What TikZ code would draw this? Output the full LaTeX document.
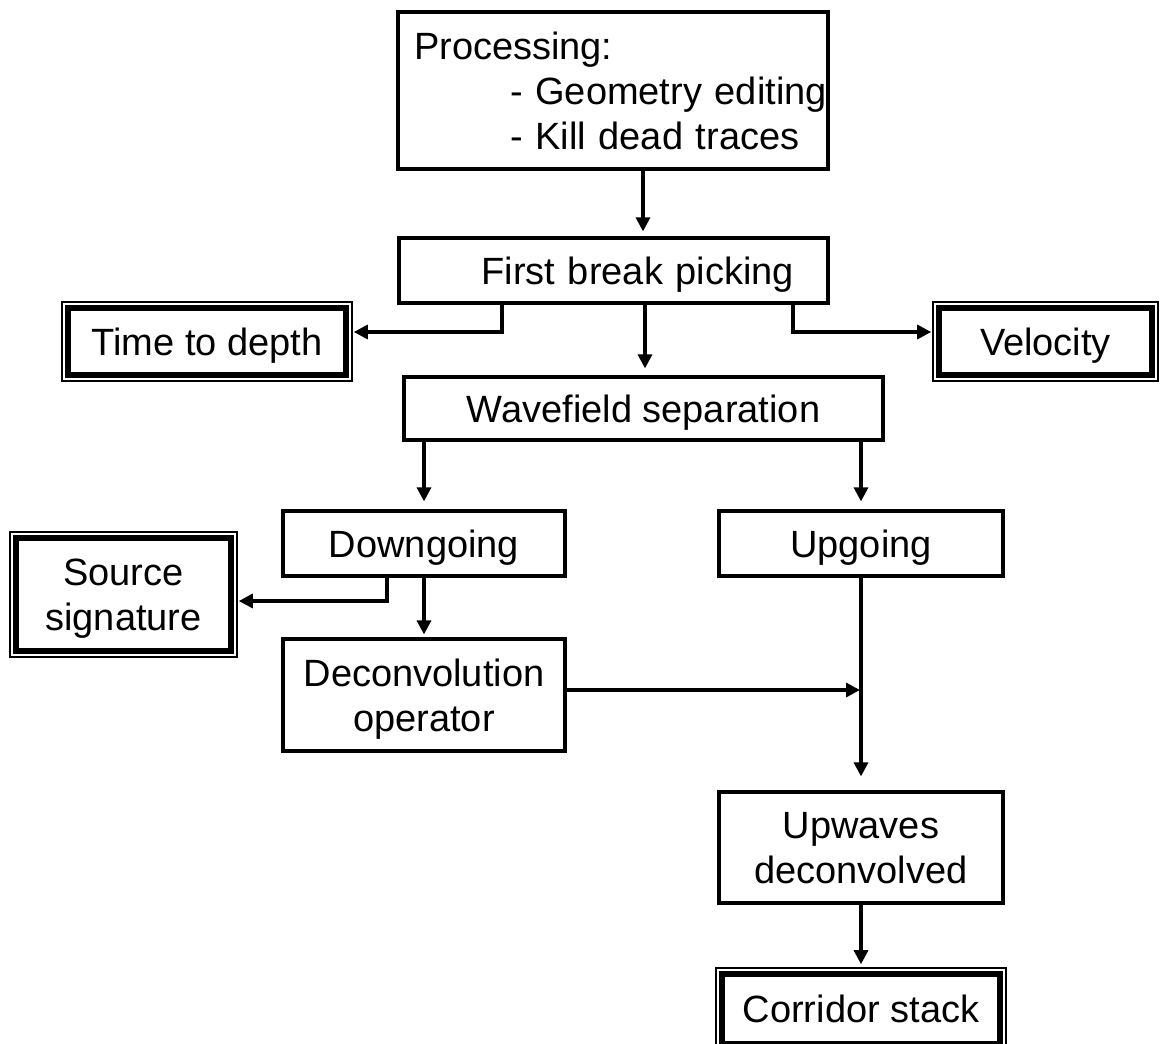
\documentclass[tikz,border=0pt]{standalone}
\usepackage{fontspec}
\setmainfont{Liberation Sans}
\usetikzlibrary{arrows.meta,calc}
\begin{document}
\begin{tikzpicture}[x=1pt,y=-1pt,
  txt/.style={font=\fontsize{38pt}{45pt}\selectfont, text depth=0pt},
  box/.style={txt, draw, line width=3.2pt, rectangle, inner sep=0pt, align=center},
  dbl/.style={txt, draw, line width=1.6pt, rectangle, inner sep=0pt, align=center},
  frame/.style={line width=5.5pt},
  arr/.style={line width=3.2pt, -{Triangle[length=14pt,width=14pt]}}]
\useasboundingbox (0,0) rectangle (1160,1044);
\clip (0,0) rectangle (1160,1044);
\fill[white] (0,0) rectangle (1160,1044);

\node[box, text depth=, minimum width=430pt, minimum height=157pt, text width=430pt, inner xsep=0pt, align=left] (proc) at (613,90.5)
  {\hspace*{16pt}\mbox{Processing:}\\\hspace*{112pt}\mbox{- Geometry editing}\\\hspace*{112pt}\mbox{- Kill dead traces}};
\node[box, minimum width=429pt, minimum height=65pt, text width=361pt, inner xsep=34pt, align=right] (fbp) at (613.5,270.5) {First break picking};
\node[dbl, minimum width=290pt, minimum height=79pt] (tdd) at (207,341.5) {Time to depth};
\node[dbl, minimum width=225pt, minimum height=79pt] (vel) at (1045.5,341.5) {Velocity};
\node[box, minimum width=479pt, minimum height=63pt] (wfs) at (643.5,408.5) {Wavefield separation};
\node[box, minimum width=282pt, minimum height=65pt] (down) at (424,543.5) {Downgoing};
\node[box, minimum width=284pt, minimum height=65pt] (up) at (861,543.5) {Upgoing};
\node[dbl, minimum width=227pt, minimum height=125pt] (src) at (123.5,594.5) {Source\\signature};
\node[box, minimum width=282pt, minimum height=112pt] (dec) at (424,695) {Deconvolution\\operator};
\node[box, minimum width=284pt, minimum height=111pt] (upw) at (861,847.5) {Upwaves\\deconvolved};
\node[dbl, minimum width=290pt, minimum height=82pt] (cor) at (861,1009) {Corridor stack};

\foreach \n in {tdd,vel,src,cor}
  \draw[frame] ([shift={(7,7)}]\n.north west) rectangle ([shift={(-7,-7)}]\n.south east);

\coordinate (xa) at (643,0);
\coordinate (xl) at (502,332);
\coordinate (xr) at (793,332);
\coordinate (xm) at (645,0);
\coordinate (xs) at (387,601);
\coordinate (xd) at (860,690);

\draw[arr, shorten >=5pt] (xa |- proc.south) -- (xa |- fbp.north);
\draw[arr, shorten >=1pt] (xl |- fbp.south) -- (xl) -- (xl -| tdd.east);
\draw[arr, shorten >=1pt] (xr |- fbp.south) -- (xr) -- (xr -| vel.west);
\draw[arr, shorten >=7pt] (xm |- fbp.south) -- (xm |- wfs.north);
\draw[arr, shorten >=8pt] (wfs.south -| down.north) -- (down.north);
\draw[arr, shorten >=8pt] (wfs.south -| up.north) -- (up.north);
\draw[arr, shorten >=1pt] (xs |- down.south) -- (xs) -- (xs -| src.east);
\draw[arr, shorten >=3pt] (down.south) -- (dec.north);
\draw[arr, shorten >=14pt] (up.south) -- (upw.north);
\draw[arr] (xd -| dec.east) -- (xd);
\draw[arr, shorten >=3pt] (upw.south) -- (cor.north);
\end{tikzpicture}
\end{document}
